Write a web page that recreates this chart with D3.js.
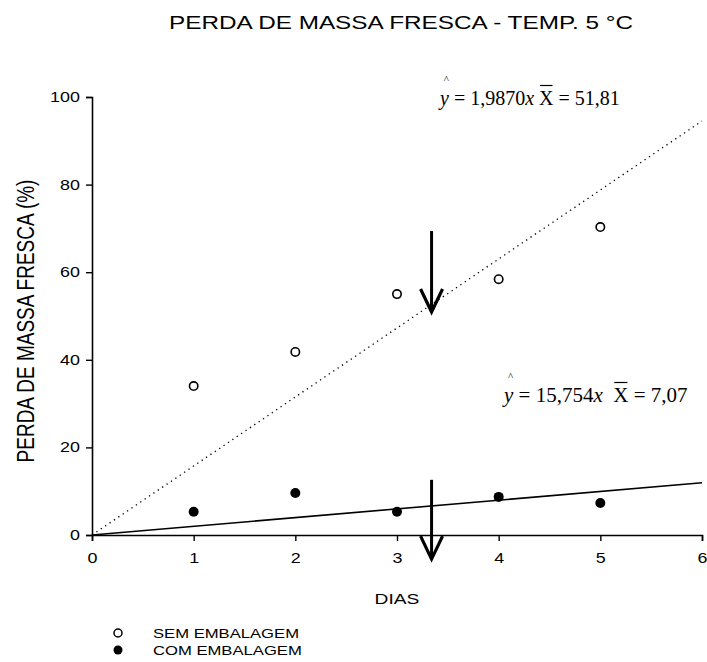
<!DOCTYPE html>
<html>
<head>
<meta charset="utf-8">
<script src="https://cdn.jsdelivr.net/npm/d3@7"></script>
<style>
  body { margin: 0; background: #fff; }
  text { font-family: "Liberation Sans", Arial, sans-serif; fill: #000; }
  text.eq { font-family: "Liberation Serif", "Times New Roman", serif; }
</style>
</head>
<body>
<main></main>
<script>
// data
const dias = [1, 2, 3, 4, 5];
const semEmbalagem = [34.0, 41.8, 55.0, 58.4, 70.3];
const comEmbalagem = [5.3, 9.6, 5.3, 8.7, 7.3];
const xTicks = [0, 1, 2, 3, 4, 5, 6];
const yTicks = [0, 20, 40, 60, 80, 100];
// regression slopes (through origin)
const slopeSem = 15.754;
const slopeCom = 1.987;
const lineX = [0, 6];
// arrows: [x, yStart, yEnd] in data units
const arrows = [[3.34, 69.4, 50.9], [3.34, 12.6, -5.5]];

const margin = { top: 97, right: 5, bottom: 127, left: 92 };
const W = 707, H = 662;
const width = W - margin.left - margin.right;
const height = H - margin.top - margin.bottom;
// the original picture is stretched sideways, so sans text is widened
const sx = 1.28;

const svg = d3.select('main').append('svg')
  .attr('width', W)
  .attr('height', H);

const g = svg.append('g')
  .attr('transform', `translate(${margin.left}, ${margin.top})`);

const x = d3.scaleLinear().domain([0, 6]).range([0, width]);
const y = d3.scaleLinear().domain([0, 100]).range([height, 0]);

function wideText(parent, px, py, size, str, anchor) {
  return parent.append('text')
    .attr('transform', `translate(${px}, ${py}) scale(${sx}, 1)`)
    .attr('text-anchor', anchor || 'start')
    .style('font-size', size + 'px')
    .text(str);
}

// title
wideText(svg, 401, 29, 19, 'PERDA DE MASSA FRESCA - TEMP. 5 °C', 'middle');

// axes
const xAxis = g.append('g')
  .attr('transform', `translate(0, ${height})`)
  .call(d3.axisBottom(x).tickValues(xTicks).tickSize(6).tickPadding(12).tickFormat(d3.format('d')));
const yAxis = g.append('g')
  .call(d3.axisLeft(y).tickValues(yTicks).tickSize(6).tickPadding(6).tickFormat(d3.format('d')));
[xAxis, yAxis].forEach(a => {
  a.select('.domain').attr('stroke', '#000').attr('stroke-width', 1.6);
  a.selectAll('.tick line').attr('stroke', '#000').attr('stroke-width', 1.4);
  a.selectAll('.tick text')
    .style('font-family', '"Liberation Sans", Arial, sans-serif')
    .style('font-size', '14px')
    .attr('fill', '#000')
    .attr('transform', `scale(${sx}, 1)`);
});
yAxis.selectAll('.tick text').attr('x', -12 / sx);

// axis titles
wideText(svg, 397, 604, 15, 'DIAS', 'middle');
svg.append('text')
  .attr('transform', `translate(34, 321) rotate(-90) scale(1, ${sx})`)
  .attr('text-anchor', 'middle')
  .style('font-size', '19px')
  .text('PERDA DE MASSA FRESCA (%)');

// regression lines
g.append('line')
  .attr('x1', x(lineX[0])).attr('y1', y(slopeSem * lineX[0]))
  .attr('x2', x(lineX[1])).attr('y2', y(slopeSem * lineX[1]))
  .attr('stroke', '#000')
  .attr('stroke-width', 1.3)
  .attr('stroke-dasharray', '1.3,4');
g.append('line')
  .attr('x1', x(lineX[0])).attr('y1', y(slopeCom * lineX[0]))
  .attr('x2', x(lineX[1])).attr('y2', y(slopeCom * lineX[1]))
  .attr('stroke', '#000')
  .attr('stroke-width', 1.6);

// points
g.selectAll('.sem').data(dias).enter().append('circle')
  .attr('class', 'sem')
  .attr('cx', d => x(d))
  .attr('cy', (d, i) => y(semEmbalagem[i]))
  .attr('r', 4.2)
  .attr('fill', '#fff')
  .attr('stroke', '#000')
  .attr('stroke-width', 1.6);
g.selectAll('.com').data(dias).enter().append('circle')
  .attr('class', 'com')
  .attr('cx', d => x(d))
  .attr('cy', (d, i) => y(comEmbalagem[i]))
  .attr('r', 5)
  .attr('fill', '#000');

// arrows
arrows.forEach(([ax, y0, y1]) => {
  const px = x(ax), top = y(y0), tip = y(y1);
  g.append('line')
    .attr('x1', px).attr('y1', top).attr('x2', px).attr('y2', tip - 2)
    .attr('stroke', '#000').attr('stroke-width', 3);
  g.append('path')
    .attr('d', `M${px - 11},${tip - 23}L${px},${tip}L${px + 11},${tip - 23}`)
    .attr('fill', 'none')
    .attr('stroke', '#000')
    .attr('stroke-width', 3.2)
    .attr('stroke-linejoin', 'miter');
});

// regression equations
function equation(x0, yb, size, coef, mean, gap) {
  const t = svg.append('text')
    .attr('class', 'eq')
    .attr('x', x0).attr('y', yb)
    .style('font-size', size + 'px');
  t.append('tspan').style('font-style', 'italic').text('y');
  t.append('tspan').text(' = ' + coef);
  t.append('tspan').style('font-style', 'italic').text('x');
  t.append('tspan').text(gap + 'X = ' + mean);
  const node = t.node();
  const xi = node.textContent.indexOf('X');
  const xs = node.getStartPositionOfChar(xi).x;
  const xe = node.getEndPositionOfChar(xi).x;
  svg.append('line')
    .attr('x1', xs + 1).attr('x2', xe - 1)
    .attr('y1', yb - 19.5).attr('y2', yb - 19.5)
    .attr('stroke', '#000').attr('stroke-width', 1.2);
  const ys = node.getStartPositionOfChar(0).x;
  const ye = node.getEndPositionOfChar(0).x;
  svg.append('text')
    .attr('class', 'eq')
    .attr('x', (ys + ye) / 2 + 2).attr('y', yb - 22)
    .attr('text-anchor', 'middle')
    .style('font-size', '11px')
    .text('^');
}
equation(440, 105, 20, '1,9870', '51,81', '\u00a0');
equation(504, 402, 21, '15,754', '7,07', '\u00a0\u00a0');

// legend
const legend = svg.append('g');
legend.append('circle')
  .attr('cx', 118).attr('cy', 633).attr('r', 4)
  .attr('fill', '#fff').attr('stroke', '#000').attr('stroke-width', 1.5);
legend.append('circle')
  .attr('cx', 118).attr('cy', 650).attr('r', 4.5)
  .attr('fill', '#000');
wideText(legend, 153, 638, 13, 'SEM EMBALAGEM');
wideText(legend, 153, 655, 13, 'COM EMBALAGEM');
</script>
</body>
</html>
